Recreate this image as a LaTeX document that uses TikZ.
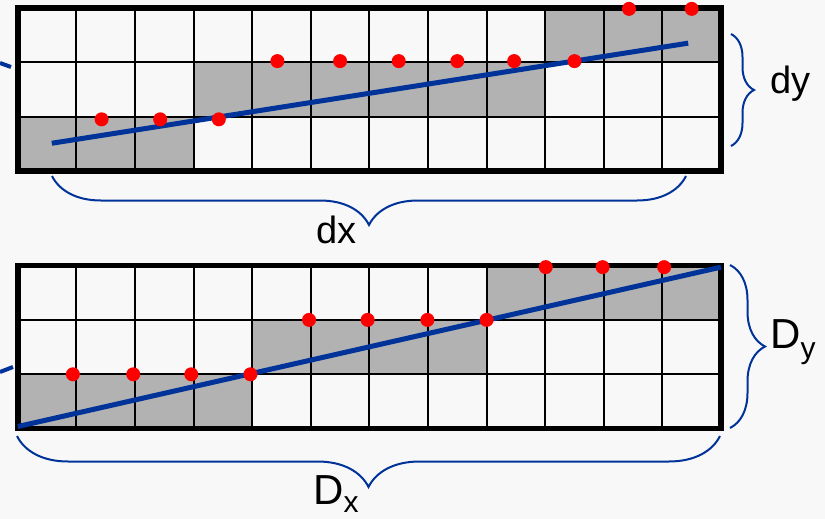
\documentclass[tikz,border=0pt]{standalone}
\usepackage{fontspec}
\setmainfont{Liberation Sans}
\usetikzlibrary{decorations.pathreplacing}
\definecolor{bgcol}{RGB}{248,248,248}
\definecolor{cellgray}{RGB}{178,178,178}
\definecolor{lineblue}{RGB}{0,51,153}
\definecolor{dotred}{RGB}{255,0,0}

\begin{document}
\begin{tikzpicture}[x=1pt, y=-1pt,
    cell/.style={fill=cellgray},
    cellline/.style={line width=2pt, black},
    gridframe/.style={line width=5.5pt, black},
    slope/.style={line width=5pt, lineblue},
    curly/.style={decorate, decoration={brace, amplitude=#1}, line width=2pt, lineblue},
    lbl/.style={inner sep=0pt, font=\fontsize{38}{40}\selectfont},
    biglbl/.style={inner sep=0pt, font=\fontsize{42}{44}\selectfont}]

    % page
    \fill[bgcol] (0,0) rectangle (825,519);
    \useasboundingbox (0,0) rectangle (825,519);

    % cut-off strokes at the left edge
    \draw[slope, line width=4pt] (0,63) -- (11,67);
    \draw[slope, line width=4pt] (0,372) -- (13,367);

    % upper raster: dy < dx
    \begin{scope}[shift={(17.8pt,-7.8pt)}, x=58.6pt, y=-54.4pt]
        \fill[cell] (0,2) rectangle (3,3);
        \fill[cell] (3,1) rectangle (9,2);
        \fill[cell] (9,0) rectangle (12,1);
        \foreach \c in {1,...,11} \draw[cellline] (\c,0) -- (\c,3);
        \foreach \r in {1,2} \draw[cellline] (0,\r) -- (12,\r);
        \draw[gridframe] (0,0) rectangle (12,3);
        \draw[slope] (0.58,2.49) -- (11.44,0.65);
        \foreach \px/\py in {1.43/2.05, 2.43/2.05, 3.43/2.05,
                             4.43/0.98, 5.5/0.98, 6.5/0.98, 7.5/0.98, 8.47/0.98, 9.5/0.98,
                             10.43/0.02, 11.5/0.02}
            \fill[dotred] (\px,\py) circle[radius=7pt];
    \end{scope}

    % lower raster: Dy, Dx
    \begin{scope}[shift={(17.8pt,-265.5pt)}, x=58.6pt, y=-54.4pt]
        \fill[cell] (0,2) rectangle (4,3);
        \fill[cell] (4,1) rectangle (8,2);
        \fill[cell] (8,0) rectangle (12,1);
        \foreach \c in {1,...,11} \draw[cellline] (\c,0) -- (\c,3);
        \foreach \r in {1,2} \draw[cellline] (0,\r) -- (12,\r);
        \draw[gridframe] (0,0) rectangle (12,3);
        \draw[slope] (0,2.96) -- (12,0.03);
        \foreach \px/\py in {0.94/2, 1.97/2, 2.96/2, 3.97/2,
                             4.97/1, 5.97/1, 6.99/1, 8/1,
                             9.01/0.03, 9.98/0.03, 11.03/0.03}
            \fill[dotred] (\px,\py) circle[radius=7pt];
    \end{scope}

    % brace ends
    \coordinate (dyTop) at (731,34);
    \coordinate (dyBot) at (731,146);
    \coordinate (dxL) at (52,176);
    \coordinate (dxR) at (686,176);
    \coordinate (DyTop) at (730,265);
    \coordinate (DyBot) at (730,428);
    \coordinate (DxL) at (17,436);
    \coordinate (DxR) at (720,436);

    \draw[curly=23pt] (dyTop) -- (dyBot);
    \draw[curly=49pt] (dxR) -- (dxL);
    \draw[curly=35pt] (DyTop) -- (DyBot);
    \draw[curly=51pt] (DxR) -- (DxL);

    % labels
    \node[lbl, anchor=base west] (dylabel) at (770,94) {dy};
    \node[lbl, anchor=base west] (dxlabel) at (316,243) {dx};
    \node[biglbl, anchor=base west] (Dylabel) at (770,348) {D\raisebox{-10pt}{\fontsize{30}{30}\selectfont y}};
    \node[biglbl, anchor=base west] (Dxlabel) at (313,504) {D\raisebox{-8pt}{\fontsize{30}{30}\selectfont x}};
\end{tikzpicture}
\end{document}
